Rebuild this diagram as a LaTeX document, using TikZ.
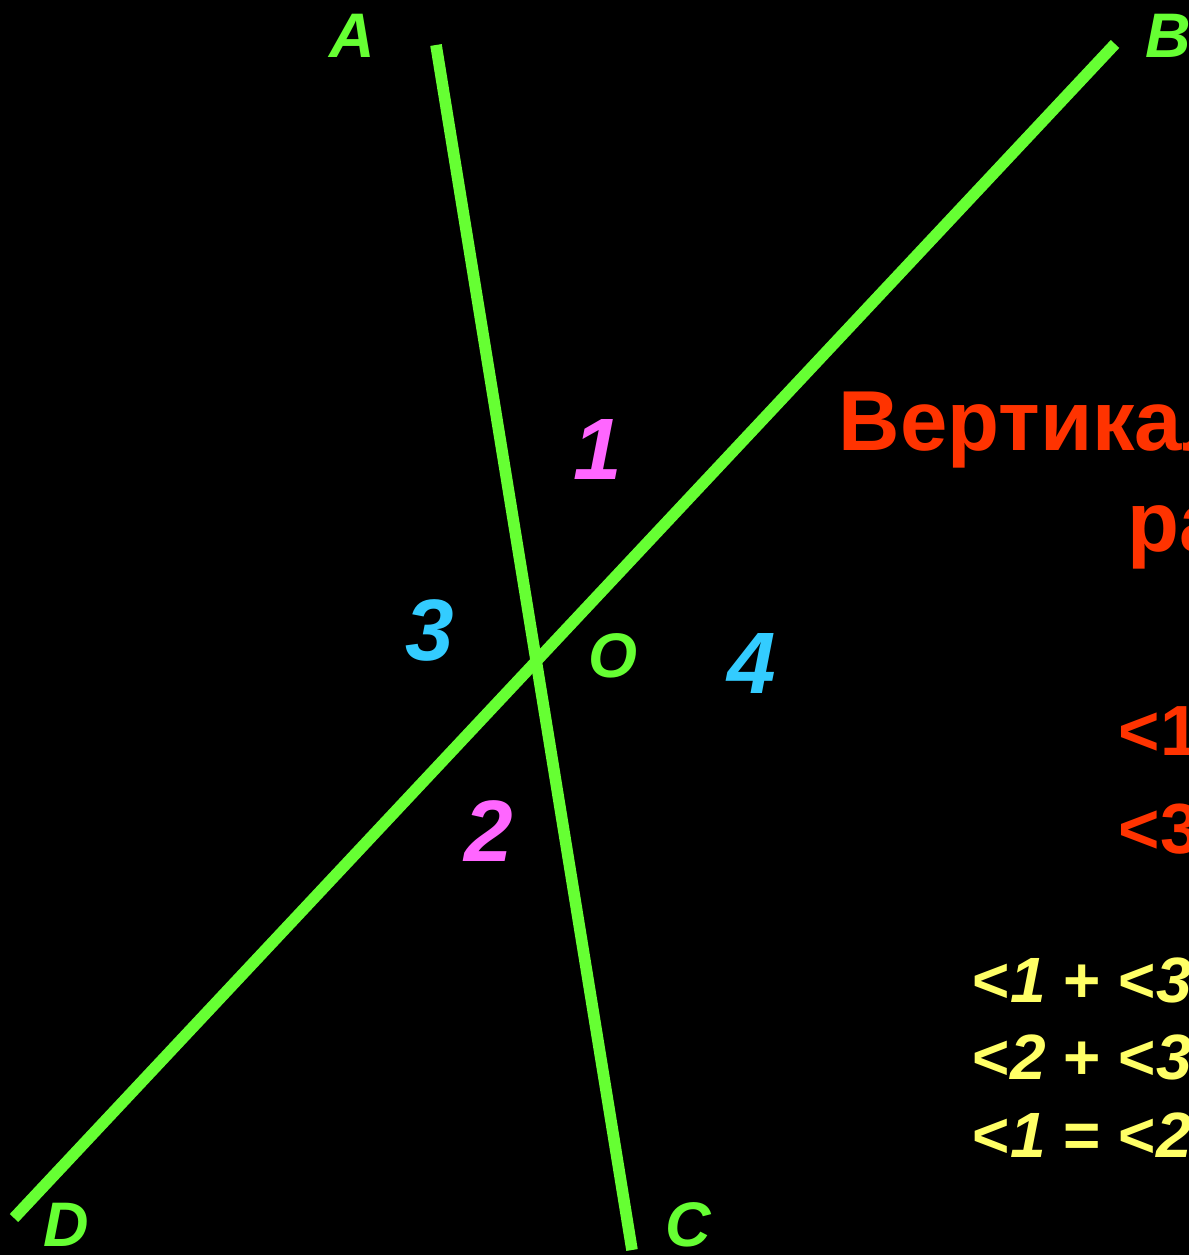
\documentclass[tikz,border=0pt]{standalone}
\usepackage{fontspec}
\setmainfont{Liberation Sans}
\definecolor{linegreen}{HTML}{66FF33}
\definecolor{titlered}{HTML}{FF3300}
\definecolor{anglepink}{HTML}{FF66FF}
\definecolor{anglecyan}{HTML}{33CCFF}
\definecolor{sumyellow}{HTML}{FFFF66}
\tikzset{
  ray/.style={draw=linegreen, line width=3.3pt},
  ptlbl/.style={font=\fontsize{17.9}{20}\selectfont\bfseries\itshape, text=linegreen, inner sep=0pt},
  numpink/.style={font=\fontsize{24.8}{28}\selectfont\bfseries\itshape, text=anglepink, inner sep=0pt},
  numcyan/.style={font=\fontsize{24.8}{28}\selectfont\bfseries\itshape, text=anglecyan, inner sep=0pt},
  title/.style={font=\fontsize{24.2}{28}\selectfont\bfseries, text=titlered, inner sep=0pt, anchor=base west},
  eqred/.style={font=\fontsize{20.2}{24}\selectfont\bfseries, text=titlered, inner sep=0pt, anchor=base west},
  eqyel/.style={font=\fontsize{18.2}{20}\selectfont\bfseries, text=sumyellow, inner sep=0pt, anchor=base west}
}

\begin{document}
\begin{tikzpicture}[x=0.01cm, y=-0.01cm]

%% Frame and background
\useasboundingbox (0,0) rectangle (1189,1255);
\fill[black] (0,0) rectangle (1189,1255);
\clip (0,0) rectangle (1189,1255);

%% Line ends
\coordinate (A) at (436,45);
\coordinate (C) at (632,1250);
\coordinate (B) at (1115,44);
\coordinate (D) at (14,1218);

%% The two lines
\draw[ray] (A) -- (C);
\draw[ray] (D) -- (B);

%% Point labels
\node[ptlbl] (lA) at (352,36)   {A};
\node[ptlbl] (lB) at (1168,36)  {B};
\node[ptlbl] (lO) at (613,656)  {O};
\node[ptlbl] (lC) at (688,1225) {C};
\node[ptlbl] (lD) at (66,1225)  {D};

%% Angle numbers
\node[numpink] (n1) at (598,449) {1};
\node[numpink] (n2) at (489,831) {2};
\node[numcyan] (n3) at (430,630) {3};
\node[numcyan] (n4) at (752,663) {4};

%% Text on the right
\node[title] (head1) at (838,450) {Вертикал};
\node[title] (head2) at (1127,551) {ра};
\node[eqred] (eq1) at (1118,755) {<1};
\node[eqred] (eq2) at (1118,853) {<3};
\node[eqyel] (sum1) at (972,1002) {<\textit{1} + <\textit{3}};
\node[eqyel] (sum2) at (972,1079) {<\textit{2} + <\textit{3}};
\node[eqyel] (sum3) at (972,1157) {<\textit{1} = <\textit{2}};

\end{tikzpicture}
\end{document}
